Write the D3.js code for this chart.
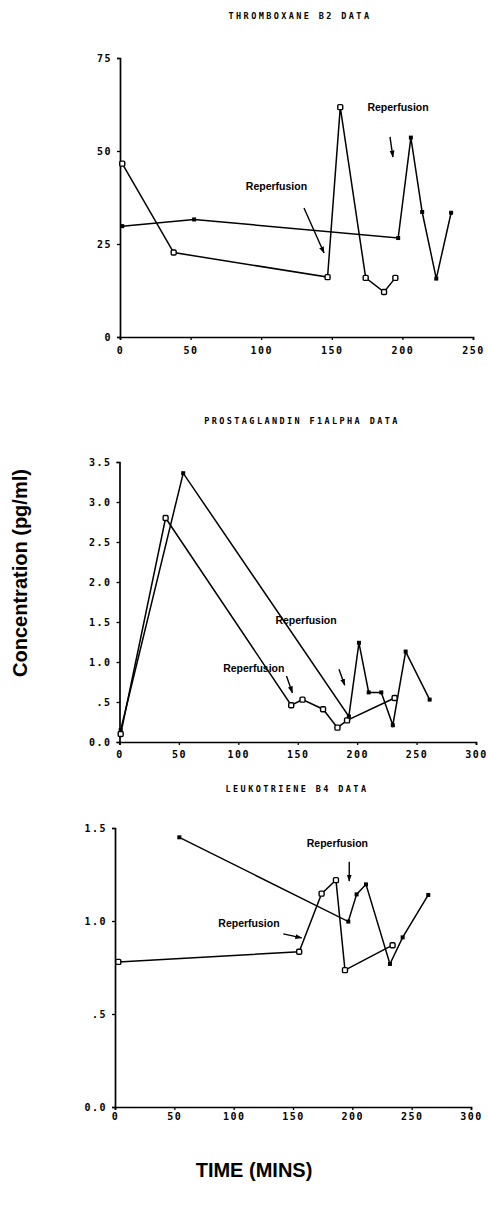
<!DOCTYPE html>
<html>
<head>
<meta charset="utf-8">
<script src="https://cdn.jsdelivr.net/npm/d3@7"></script>
<style>
  body { margin: 0; background: #fff; }
  svg { display: block; }
  .tick text { font-family: "DejaVu Sans Mono", monospace; font-weight: bold; font-size: 10px; letter-spacing: 1.5px; fill: #000; }
  .title { font-family: "DejaVu Sans Mono", monospace; font-size: 8.5px; letter-spacing: 2.4px; font-weight: bold; }
  .note { font-family: "Liberation Sans", Arial, sans-serif; font-weight: bold; font-size: 10.5px; }
  .big { font-family: "Liberation Sans", Arial, sans-serif; font-weight: bold; font-size: 20px; }
</style>
</head>
<body>
<svg id="chart" width="488" height="1211"></svg>
<script>
// Thromboxane B2
const txbOpenX = [1.6, 38, 147, 156, 174, 187, 195];
const txbOpenY = [46.6, 22.7, 16.1, 61.8, 15.9, 12.1, 15.9];
const txbFillX = [1.6, 52.5, 197, 206, 214, 224, 234.5];
const txbFillY = [29.8, 31.6, 26.6, 53.6, 33.6, 15.7, 33.4];
const txbTicksY = [0, 25, 50, 75];
const txbTicksX = [0, 50, 100, 150, 200, 250];

// Prostaglandin F1alpha
const pgfOpenX = [1, 38.8, 144.5, 154, 171.3, 183.4, 191.5, 231.5];
const pgfOpenY = [0.1, 2.8, 0.46, 0.53, 0.41, 0.18, 0.27, 0.55];
const pgfFillX = [1, 53.6, 193, 201.5, 209.7, 220.3, 230, 240.8, 261];
const pgfFillY = [0.15, 3.36, 0.32, 1.24, 0.62, 0.62, 0.21, 1.13, 0.53];
const pgfTicksY = [0, 0.5, 1, 1.5, 2, 2.5, 3, 3.5];
const pgfTicksX = [0, 50, 100, 150, 200, 250, 300];

// Leukotriene B4
const ltbOpenX = [2.8, 155.2, 174.1, 186.2, 193.8, 233.9];
const ltbOpenY = [0.78, 0.835, 1.147, 1.22, 0.736, 0.87];
const ltbFillX = [54.2, 196.6, 203.6, 211.5, 231.7, 242.4, 264];
const ltbFillY = [1.45, 0.997, 1.143, 1.197, 0.769, 0.912, 1.14];
const ltbTicksY = [0, 0.5, 1, 1.5];
const ltbTicksX = [0, 50, 100, 150, 200, 250, 300];

// "Reperfusion" notes: label point and arrow from/to, in data units
const txbNotes = [
  { tx: 110.8, ty: 39.5, x1: 130.3, y1: 34.7, x2: 144.5, y2: 22.6 },
  { tx: 196.9, ty: 60.7, x1: 191.2, y1: 53.8, x2: 193.3, y2: 48.4 }
];
const pgfNotes = [
  { tx: 157, ty: 1.475, x1: 184.7, y1: 0.91, x2: 189.5, y2: 0.71 },
  { tx: 113, ty: 0.875, x1: 140.5, y1: 0.825, x2: 145.5, y2: 0.616 }
];
const ltbNotes = [
  { tx: 187.4, ty: 1.397, x1: 197.4, y1: 1.318, x2: 197.4, y2: 1.215 },
  { tx: 112.9, ty: 0.97, x1: 141.8, y1: 0.931, x2: 157.3, y2: 0.909 }
];

const svg = d3.select('#chart');
svg.append('rect').attr('width', 488).attr('height', 1211).attr('fill', '#fff');

svg.append('defs').append('marker')
  .attr('id', 'arr').attr('viewBox', '0 0 10 10').attr('refX', 9).attr('refY', 5)
  .attr('markerWidth', 5).attr('markerHeight', 5).attr('orient', 'auto')
  .append('path').attr('d', 'M0,1.5L10,5L0,8.5Z').attr('fill', '#000');

const fmtDec = d => d === 0 ? '0.0' : d < 1 ? '.5' : d3.format('.1f')(d);

function panel(o) {
  const x = d3.scaleLinear().domain(o.xDom).range(o.xRange);
  const y = d3.scaleLinear().domain(o.yDom).range(o.yRange);
  const g = svg.append('g');

  g.append('text').attr('class', 'title').attr('x', o.titleX).attr('y', o.titleY)
    .attr('text-anchor', 'middle').text(o.title);

  const ax = g.append('g').attr('transform', `translate(0,${o.yRange[0]})`)
    .call(d3.axisBottom(x).tickValues(o.ticksX).tickSize(3).tickPadding(o.padX).tickFormat(d3.format('d')));
  const ay = g.append('g').attr('transform', `translate(${o.xRange[0]},0)`)
    .call(d3.axisLeft(y).tickValues(o.ticksY).tickSize(3).tickPadding(5).tickFormat(o.fmtY));
  [ax, ay].forEach(a => {
    a.select('.domain').attr('stroke', '#000').attr('stroke-width', 1.7);
    a.selectAll('.tick line').attr('stroke', '#000').attr('stroke-width', 1.3);
  });

  const line = d3.line().x(d => x(d[0])).y(d => y(d[1]));
  const openPts = d3.zip(o.openX, o.openY);
  const fillPts = d3.zip(o.fillX, o.fillY);

  g.append('path').datum(openPts).attr('d', line)
    .attr('fill', 'none').attr('stroke', '#000').attr('stroke-width', 1.5);
  g.append('path').datum(fillPts).attr('d', line)
    .attr('fill', 'none').attr('stroke', '#000').attr('stroke-width', 1.5);

  g.selectAll('.om').data(openPts).join('rect')
    .attr('x', d => x(d[0]) - 2.5).attr('y', d => y(d[1]) - 2.5)
    .attr('width', 5).attr('height', 5).attr('rx', 1.2)
    .attr('fill', '#fff').attr('stroke', '#000').attr('stroke-width', 1.4);
  g.selectAll('.fm').data(fillPts).join('rect')
    .attr('x', d => x(d[0]) - 2).attr('y', d => y(d[1]) - 2)
    .attr('width', 4).attr('height', 4).attr('fill', '#000');

  o.notes.forEach(n => {
    g.append('text').attr('class', 'note').attr('x', x(n.tx)).attr('y', y(n.ty))
      .attr('text-anchor', 'middle').text('Reperfusion');
    g.append('line').attr('x1', x(n.x1)).attr('y1', y(n.y1)).attr('x2', x(n.x2)).attr('y2', y(n.y2))
      .attr('stroke', '#000').attr('stroke-width', 1.4).attr('marker-end', 'url(#arr)');
  });
}

panel({
  title: 'THROMBOXANE B2 DATA', titleX: 300, titleY: 19,
  xDom: [0, 250], xRange: [120, 473], yDom: [0, 75], yRange: [337, 58],
  ticksX: txbTicksX, ticksY: txbTicksY, padX: 7, fmtY: d3.format('d'),
  openX: txbOpenX, openY: txbOpenY, fillX: txbFillX, fillY: txbFillY, notes: txbNotes
});

panel({
  title: 'PROSTAGLANDIN F1ALPHA DATA', titleX: 302, titleY: 424,
  xDom: [0, 300], xRange: [119.5, 476], yDom: [0, 3.5], yRange: [742, 462],
  ticksX: pgfTicksX, ticksY: pgfTicksY, padX: 6, fmtY: fmtDec,
  openX: pgfOpenX, openY: pgfOpenY, fillX: pgfFillX, fillY: pgfFillY, notes: pgfNotes
});

panel({
  title: 'LEUKOTRIENE B4 DATA', titleX: 297, titleY: 792,
  xDom: [0, 300], xRange: [115, 471], yDom: [0, 1.5], yRange: [1107, 828],
  ticksX: ltbTicksX, ticksY: ltbTicksY, padX: 3, fmtY: fmtDec,
  openX: ltbOpenX, openY: ltbOpenY, fillX: ltbFillX, fillY: ltbFillY, notes: ltbNotes
});

svg.append('text').attr('class', 'big').attr('text-anchor', 'middle')
  .attr('transform', 'translate(27,573) rotate(-90)').text('Concentration (pg/ml)');
svg.append('text').attr('class', 'big').attr('text-anchor', 'middle')
  .attr('x', 254).attr('y', 1177).text('TIME (MINS)');
</script>
</body>
</html>
